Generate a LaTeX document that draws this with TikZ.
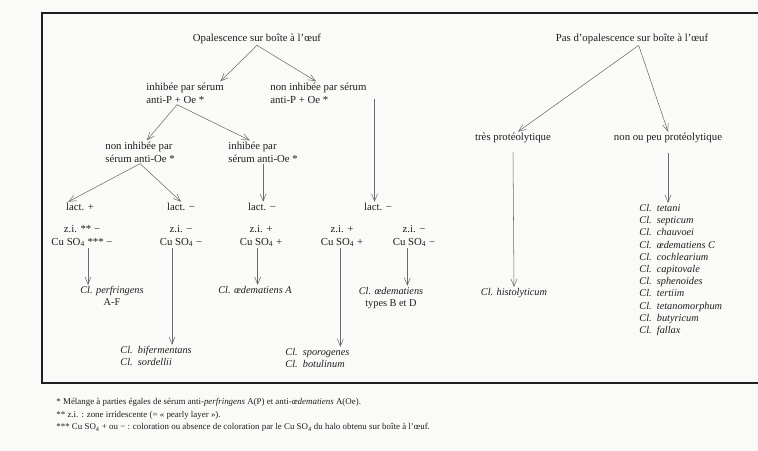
\documentclass[tikz,border=0pt]{standalone}
\usepackage{fontspec}
\setmainfont{Liberation Serif}
\usepackage{xcolor}
\usetikzlibrary{positioning,arrows.meta}

\definecolor{ink}{HTML}{1E1E1E}
\definecolor{arrowgray}{HTML}{6A6A6A}
\definecolor{paper}{HTML}{FAFAF8}

\begin{document}
\begin{tikzpicture}[
  x=0.03cm, y=-0.03cm,
  font=\fontsize{9.2}{11}\selectfont,
  txt/.style={inner sep=1pt, text=ink, align=center},
  lft/.style={txt, align=left, anchor=west},
  sp/.style={font=\fontsize{8.8}{10.4}\selectfont\itshape},
  arrow/.style={-{Straight Barb[length=2.2mm,width=1.8mm]}, draw=arrowgray, line width=0.45pt},
  frame/.style={draw=ink, line width=1.4pt}
]
\useasboundingbox[fill=paper] (0,0) rectangle (758,451);

% frame round the key
\draw[frame] (758,13) -- (42,13) -- (42,383) -- (758,383);

% egg-yolk opalescence branch
\node[txt] (op) at (257,39) {Opalescence sur boîte à l'œuf};
\node[lft] (inh) at (145,93) {inhibée par sérum\\anti-P + Oe *};
\node[lft] (noninh) at (269,93) {non inhibée par sérum\\anti-P + Oe *};
\node[lft] (noninhOe) at (104,152) {non inhibée par\\sérum anti-Oe *};
\node[lft] (inhOe) at (227,152) {inhibée par\\sérum anti-Oe *};

\node[txt] (lactA) at (80,207) {lact. +};
\node[txt] (lactB) at (181,207) {lact. −};
\node[txt] (lactC) at (262,207) {lact. −};
\node[txt] (lactD) at (378,207) {lact. −};

\node[txt] (ziA) at (82,236) {z.i. ** −\\Cu SO\textsubscript{4} *** −};
\node[txt] (ziB) at (181,236) {z.i. −\\Cu SO\textsubscript{4} −};
\node[txt] (ziC) at (261,236) {z.i. +\\Cu SO\textsubscript{4} +};
\node[txt] (ziD) at (342,236) {z.i. +\\Cu SO\textsubscript{4} +};
\node[txt] (ziE) at (414,236) {z.i. −\\Cu SO\textsubscript{4} −};

\node[txt, sp] (perf) at (112,296) {Cl. perfringens\\\upshape A-F};
\node[lft, sp] (biferm) at (119,356) {Cl.\enspace bifermentans\\Cl.\enspace sordellii};
\node[txt, sp] (oedA) at (255,290) {Cl. œdematiens A};
\node[lft, sp] (sporo) at (284,358) {Cl.\enspace sporogenes\\Cl.\enspace botulinum};
\node[txt, sp] (oedBD) at (391,298) {Cl. œdematiens\\\upshape types B et D};

\draw[arrow] (op.south) -- ([xshift=-4pt]inh.north east);
\draw[arrow] (op.south) -- ([xshift=-2pt]noninh.north);
\draw[arrow] ([xshift=-0.24cm]inh.south) -- ([xshift=0.2cm]noninhOe.north);
\draw[arrow] ([xshift=-0.24cm]inh.south) -- ([xshift=-0.4cm]inhOe.north);
\draw[arrow] (noninhOe.south) -- ([xshift=3pt]lactA.north west);
\draw[arrow] (noninhOe.south) -- (lactB.north);
\draw[arrow] (inhOe.south) -- (inhOe.south |- lactC.north);
\draw[arrow] ([xshift=0.2cm,yshift=-5pt]noninh.east) -- ([xshift=0.2cm]noninh.east |- lactD.north);

\draw[arrow] ([xshift=0.18cm]ziA.south) -- ([xshift=0.18cm]ziA.south |- perf.north);
\draw[arrow] ([xshift=-0.27cm]ziB.south) -- ([xshift=-0.27cm]ziB.south |- biferm.north);
\draw[arrow] ([xshift=-0.1cm]ziC.south) -- ([xshift=-0.1cm]ziC.south |- oedA.north);
\draw[arrow] ([xshift=-0.05cm]ziD.south) -- ([xshift=-0.05cm]ziD.south |- sporo.north);
\draw[arrow] ([xshift=-0.2cm]ziE.south) -- ([xshift=-0.2cm]ziE.south |- oedBD.north);

% no opalescence branch
\node[txt] (pas) at (632,39) {Pas d'opalescence sur boîte à l'œuf};
\node[txt] (tres) at (513,138) {très protéolytique};
\node[txt] (nonpeu) at (668,138) {non ou peu protéolytique};
\node[txt, sp] (histo) at (514,293) {Cl. histolyticum};
\node[lft, sp, anchor=north west] (list) at (638,203) {Cl.\enspace tetani\\Cl.\enspace septicum\\Cl.\enspace chauvoei\\Cl.\enspace œdematiens C\\Cl.\enspace cochlearium\\Cl.\enspace capitovale\\Cl.\enspace sphenoides\\Cl.\enspace tertiim\\Cl.\enspace tetanomorphum\\Cl.\enspace butyricum\\Cl.\enspace fallax};

\draw[arrow] ([xshift=0.2cm]pas.south) -- ([xshift=0.15cm]tres.north);
\draw[arrow] ([xshift=0.2cm]pas.south) -- (nonpeu.north);
\draw[arrow] ([yshift=-0.25cm]tres.south) -- (histo.north);
\draw[arrow] ([yshift=-0.25cm]nonpeu.south) -- (nonpeu.south |- list.north);

% notes under the frame
\node[lft, anchor=north west, font=\fontsize{7.6}{10.8}\selectfont] (notes) at (55,397) {* Mélange à parties égales de sérum anti-\textit{perfringens} A(P) et anti-\textit{œdematiens} A(Oe).\\** z.i. : zone irridescente (= « pearly layer »).\\*** Cu SO\textsubscript{4} + ou − : coloration ou absence de coloration par le Cu SO\textsubscript{4} du halo obtenu sur boîte à l'œuf.};
\end{tikzpicture}
\end{document}
